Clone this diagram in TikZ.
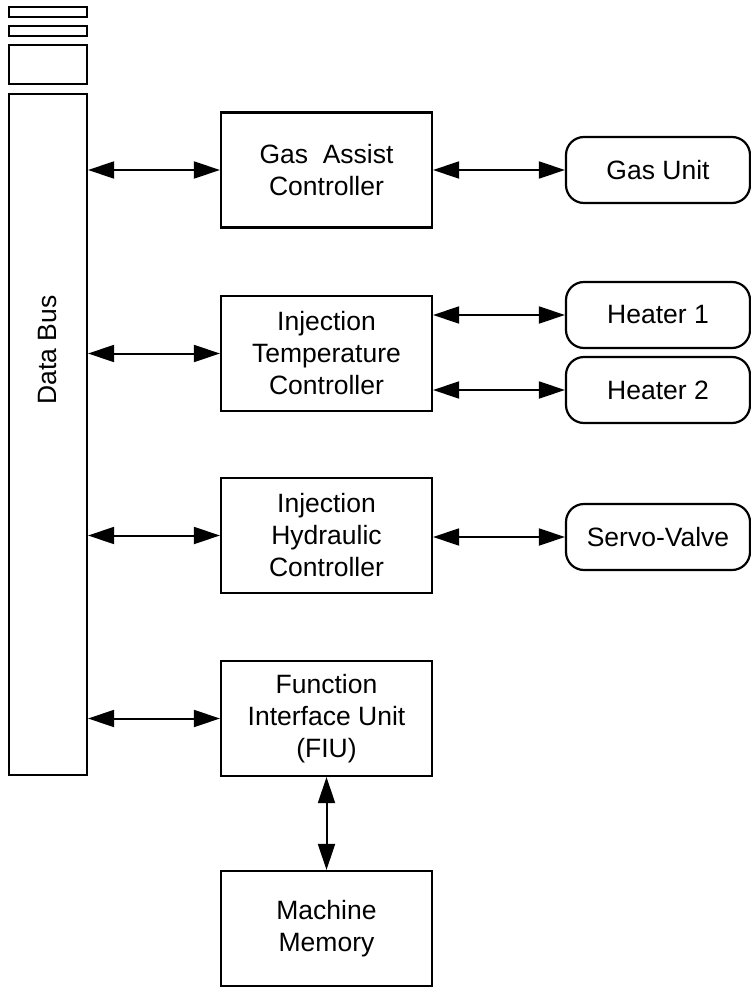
\documentclass[tikz,border=0pt]{standalone}
\usepackage{fontspec}
\setmainfont{Liberation Sans}
\usetikzlibrary{arrows.meta}
\begin{document}
\begin{tikzpicture}[x=1pt,y=-1pt,
  every node/.style={font=\fontsize{26.5}{32}\selectfont, align=center, inner sep=0pt},
  ln/.style={line width=2.2pt, draw=black},
  box/.style={ln, rectangle, minimum width=211pt, minimum height=115pt},
  rbox/.style={ln, rectangle, rounded corners=18pt, minimum width=184pt, minimum height=66pt},
  bar/.style={ln, rectangle, minimum width=78pt},
  biarrow/.style={line width=2pt, {Triangle[length=26pt,width=17pt]}-{Triangle[length=26pt,width=17pt]}}
]
\useasboundingbox (0,0) rectangle (751,987);
% bars at the left
\node[bar, minimum height=10pt] (s1) at (48,12) {};
\node[bar, minimum height=10pt] (s2) at (48,31) {};
\node[bar, minimum height=39pt] (s3) at (48,64.5) {};
\node[bar, minimum height=681pt] (bus) at (48,434.5) {};
\node[rotate=90] (buslabel) at (48,350) {Data Bus};
% controllers
\node[box] (gac) at (326.5,170) {Gas\ \ Assist\\Controller};
\node[box] (itc) at (326.5,353.5) {Injection\\Temperature\\Controller};
\node[box] (ihc) at (326.5,535.5) {Injection\\Hydraulic\\Controller};
\node[box] (fiu) at (326.5,718.5) {Function\\Interface Unit\\(FIU)};
\node[box] (mm) at (326.5,928.5) {Machine\\Memory};
% devices
\node[rbox] (gu) at (658,170) {Gas Unit};
\node[rbox] (h1) at (658,315) {Heater 1};
\node[rbox] (h2) at (658,390) {Heater 2};
\node[rbox] (sv) at (658,537) {Servo-Valve};
% connectors
\draw[biarrow] (gac.west -| bus.east) -- (gac.west);
\draw[biarrow] (itc.west -| bus.east) -- (itc.west);
\draw[biarrow] (ihc.west -| bus.east) -- (ihc.west);
\draw[biarrow] (fiu.west -| bus.east) -- (fiu.west);
\draw[biarrow] (gac.east) -- (gu.west);
\draw[biarrow] (h1.west -| itc.east) -- (h1.west);
\draw[biarrow] (h2.west -| itc.east) -- (h2.west);
\draw[biarrow] (sv.west -| ihc.east) -- (sv.west);
\draw[biarrow] (fiu.south) -- (mm.north);
\end{tikzpicture}
\end{document}
